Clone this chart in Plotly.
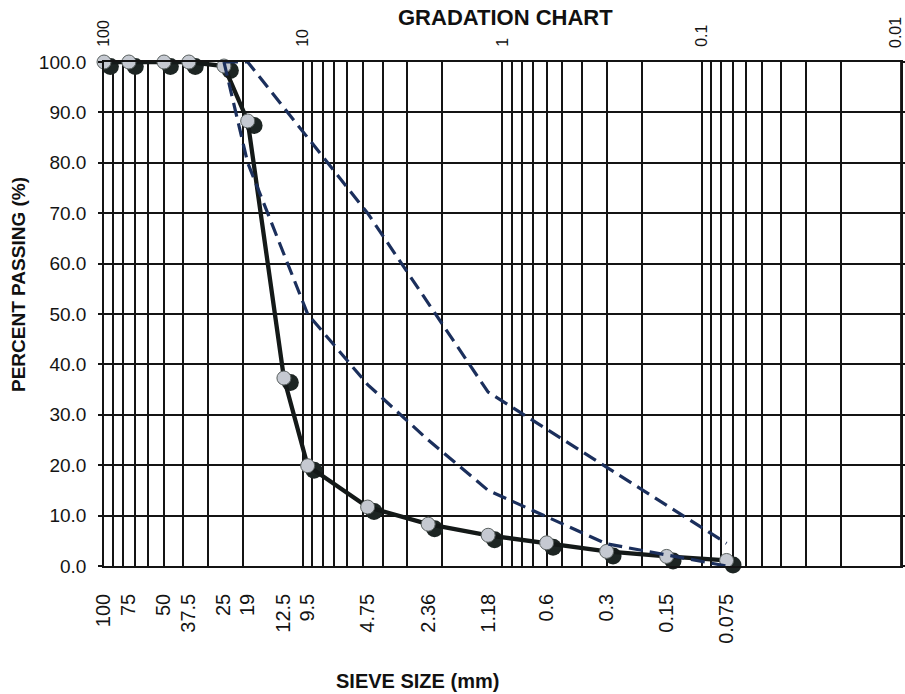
import plotly.graph_objects as go

# ---- data ----
sieve_sizes = [100, 75, 50, 37.5, 25, 19, 12.5, 9.5, 4.75, 2.36, 1.18, 0.6, 0.3, 0.15, 0.075]
sieve_labels = ["100", "75", "50", "37.5", "25", "19", "12.5", "9.5", "4.75", "2.36", "1.18", "0.6", "0.3", "0.15", "0.075"]
percent_passing = [100, 100, 100, 100, 99.2, 88.3, 37.3, 19.9, 11.7, 8.3, 6.1, 4.6, 2.9, 1.9, 1.1]

upper_sizes = [25, 19, 4.75, 1.18, 0.075]
upper_limit = [100, 100, 70, 34.5, 4.5]

lower_sizes = [25, 19, 9.5, 4.75, 2.36, 1.18, 0.3, 0.075]
lower_limit = [100, 80, 50, 36, 25, 15, 4.4, 0]

top_ticks = [100, 10, 1, 0.1, 0.01]
top_labels = ["100", "10", "1", "0.1", "0.01"]
y_ticks = [0, 10, 20, 30, 40, 50, 60, 70, 80, 90, 100]

grid_vals = [d * 10 ** k for k in range(-2, 2) for d in range(1, 10)] + [100]

FONT = "Liberation Sans, Arial, sans-serif"
NAVY = "#1b2f5c"
INK = "#141414"

W, H = 905, 694
ML, MR, MT, MB = 104, 4, 62, 128
PW, PH = W - ML - MR, H - MT - MB


def px(x):
    return (x - ML) / PW


def py(y):
    return (H - MB - y) / PH


fig = go.Figure()

# shadow of the markers (main hidden axes, slightly shifted)
fig.add_trace(go.Scatter(
    x=sieve_sizes, y=percent_passing, mode="markers",
    marker=dict(size=17, color="#1d2523", line=dict(width=0)),
    xaxis="x", yaxis="y", cliponaxis=False, hoverinfo="skip", showlegend=False))

# main gradation curve
fig.add_trace(go.Scatter(
    x=sieve_sizes, y=percent_passing, mode="lines+markers",
    line=dict(color="#141918", width=4.3),
    marker=dict(size=14, color="#c5c9d1", line=dict(width=1, color="#59605f")),
    xaxis="x2", yaxis="y2", cliponaxis=False, showlegend=False))

# lower specification band
fig.add_trace(go.Scatter(
    x=lower_sizes, y=lower_limit, mode="lines",
    line=dict(color=NAVY, width=3.2, dash="14px,7px"),
    xaxis="x2", yaxis="y2", cliponaxis=False, showlegend=False))

# upper specification band (on top axis, same scale)
fig.add_trace(go.Scatter(
    x=upper_sizes, y=upper_limit, mode="lines",
    line=dict(color=NAVY, width=3.2, dash="14px,7px"),
    xaxis="x3", yaxis="y2", cliponaxis=False, showlegend=False))

fig.update_layout(
    width=W, height=H,
    margin=dict(l=ML, r=MR, t=MT, b=MB, autoexpand=False),
    paper_bgcolor="white", plot_bgcolor="white",
    font=dict(family=FONT, color=INK),
    showlegend=False,
    xaxis=dict(type="log", range=[2.032, -1.968], visible=False, showgrid=False,
               automargin=False),
    yaxis=dict(range=[0.9, 100.9], visible=False, showgrid=False, automargin=False),
    xaxis2=dict(
        type="log", range=[2, -2.0005], overlaying="x", anchor="y2", side="bottom",
        tickmode="array", tickvals=sieve_sizes, ticktext=sieve_labels,
        tickangle=-90, tickfont=dict(family=FONT, size=20, color=INK),
        ticks="outside", ticklen=18, tickcolor="rgba(0,0,0,0)",
        showgrid=False, zeroline=False, automargin=False,
        showline=True, mirror=True, linecolor=INK, linewidth=1.6),
    xaxis3=dict(
        type="log", range=[2, -2.0005], overlaying="x", anchor="y2", side="top",
        tickmode="array", tickvals=top_ticks, ticktext=top_labels,
        tickangle=-90, tickfont=dict(family=FONT, size=16, color=INK),
        ticks="outside", ticklen=11, tickcolor="rgba(0,0,0,0)",
        showgrid=True, gridcolor=INK, gridwidth=1.5,
        minor=dict(tickmode="array", tickvals=grid_vals, showgrid=True,
                   gridcolor=INK, gridwidth=1.5, ticks=""),
        showline=False, zeroline=False, automargin=False),
    yaxis2=dict(
        range=[0, 100], overlaying="y", anchor="x2", side="left",
        tickmode="array", tickvals=y_ticks, tickformat=".1f",
        tickfont=dict(family=FONT, size=19, color=INK),
        ticks="outside", ticklen=4, tickcolor=INK, tickwidth=1.5,
        ticklabelstandoff=8, automargin=False,
        showgrid=True, gridcolor=INK, gridwidth=1.5, zeroline=False,
        showline=True, mirror="all", linecolor=INK, linewidth=1.6),
    shapes=[
        dict(type="line", xref="paper", yref="paper", x0=1, x1=1, y0=0, y1=1,
             line=dict(color=INK, width=1.8), layer="above"),
    ],
    annotations=[
        dict(text="<b>GRADATION CHART</b>", x=px(505), y=py(17), xref="paper", yref="paper",
             showarrow=False, font=dict(family=FONT, size=22, color="#111"),
             xanchor="center", yanchor="middle"),
        dict(text="<b>PERCENT PASSING (%)</b>", x=px(18), y=py(285), xref="paper", yref="paper",
             textangle=-90, showarrow=False, font=dict(family=FONT, size=19, color="#111"),
             xanchor="center", yanchor="middle"),
        dict(text="<b>SIEVE SIZE (mm)</b>", x=px(417), y=py(681), xref="paper", yref="paper",
             showarrow=False, font=dict(family=FONT, size=20, color="#111"),
             xanchor="center", yanchor="middle"),
        dict(text=top_labels[-1], x=px(896), y=py(33), xref="paper", yref="paper",
             textangle=-90, showarrow=False, font=dict(family=FONT, size=16, color=INK),
             xanchor="center", yanchor="middle"),
    ],
)

fig.write_html("out.html", config={"displayModeBar": False},
               post_script="document.body.style.margin='0';document.body.style.overflow='hidden';")
